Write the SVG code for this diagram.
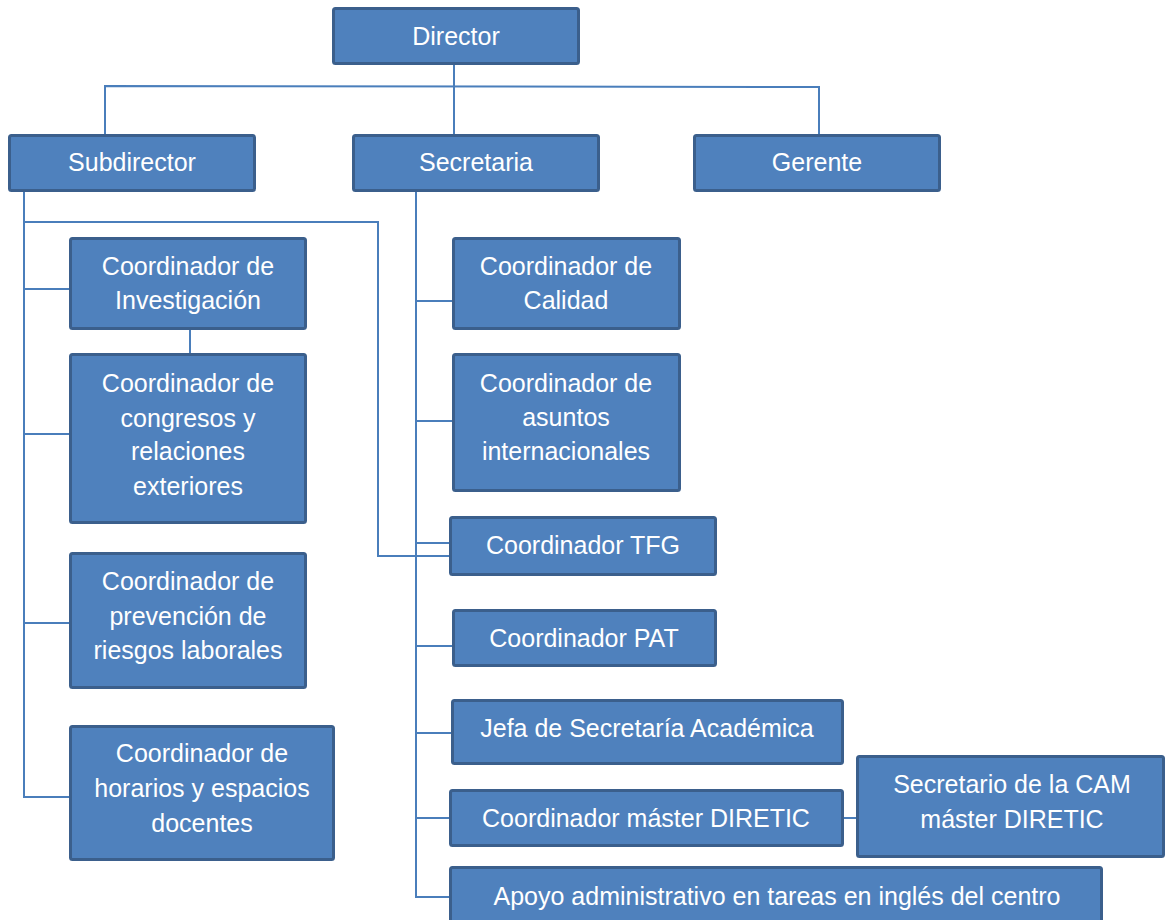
<svg xmlns="http://www.w3.org/2000/svg" width="1166" height="920" viewBox="0 0 1166 920">
<style>
.box{fill:#4f81bd;stroke:#3b5f8c;stroke-width:3}
.t{font-family:"Liberation Sans",Arial,sans-serif;font-size:25px;fill:#ffffff;text-anchor:middle}
.c{fill:none;stroke:#4a7ebb;stroke-width:2}
</style>
<rect width="1166" height="920" fill="#ffffff"/>
<g id="connectors">
<path class="c" d="M454 65 V140"/>
<path class="c" d="M105 136 V86 L819 87 V134"/>
<path class="c" d="M24 192 V798"/>
<path class="c" d="M24 222 H378 V556 H452"/>
<path class="c" d="M24 289 H70 M24 434 H93 M24 623 H70 M24 797 H70"/>
<path class="c" d="M190 328 V357"/>
<path class="c" d="M416 178 V898"/>
<path class="c" d="M416 301 H454 M416 421 H454 M416 543 H452 M416 646 H465 M416 733 H460 M416 818 H460 M416 897 H451"/>
<path class="c" d="M844 818 H872"/>
</g>
<g id="director"><rect class="box" x="333.5" y="8.5" width="245" height="55" rx="2"/><text class="t" x="456" y="45">Director</text></g>
<g id="subdirector"><rect class="box" x="9.5" y="135.5" width="245" height="55" rx="2"/><text class="t" x="132" y="171">Subdirector</text></g>
<g id="secretaria"><rect class="box" x="353.5" y="135.5" width="245" height="55" rx="2"/><text class="t" x="476" y="171">Secretaria</text></g>
<g id="gerente"><rect class="box" x="694.5" y="135.5" width="245" height="55" rx="2"/><text class="t" x="817" y="171">Gerente</text></g>
<g id="investigacion"><rect class="box" x="70.5" y="238.5" width="235" height="90" rx="2"/><text class="t" x="188" y="275">Coordinador de</text><text class="t" x="188" y="309">Investigación</text></g>
<g id="congresos"><rect class="box" x="70.5" y="354.5" width="235" height="168" rx="2"/><text class="t" x="188" y="392">Coordinador de</text><text class="t" x="188" y="427">congresos y</text><text class="t" x="188" y="460">relaciones</text><text class="t" x="188" y="495">exteriores</text></g>
<g id="prevencion"><rect class="box" x="70.5" y="553.5" width="235" height="134" rx="2"/><text class="t" x="188" y="590">Coordinador de</text><text class="t" x="188" y="625">prevención de</text><text class="t" x="188" y="659">riesgos laborales</text></g>
<g id="horarios"><rect class="box" x="70.5" y="726.5" width="263" height="133" rx="2"/><text class="t" x="202" y="762">Coordinador de</text><text class="t" x="202" y="797">horarios y espacios</text><text class="t" x="202" y="832">docentes</text></g>
<g id="calidad"><rect class="box" x="453.5" y="238.5" width="226" height="90" rx="2"/><text class="t" x="566" y="275">Coordinador de</text><text class="t" x="566" y="309">Calidad</text></g>
<g id="asuntos"><rect class="box" x="453.5" y="354.5" width="226" height="136" rx="2"/><text class="t" x="566" y="392">Coordinador de</text><text class="t" x="566" y="426">asuntos</text><text class="t" x="566" y="460">internacionales</text></g>
<g id="tfg"><rect class="box" x="450.5" y="517.5" width="265" height="57" rx="2"/><text class="t" x="583" y="554">Coordinador TFG</text></g>
<g id="pat"><rect class="box" x="453.5" y="610.5" width="262" height="55" rx="2"/><text class="t" x="584" y="647">Coordinador PAT</text></g>
<g id="jefa"><rect class="box" x="452.5" y="700.5" width="390" height="63" rx="2"/><text class="t" x="647" y="737">Jefa de Secretaría Académica</text></g>
<g id="master"><rect class="box" x="450.5" y="790.5" width="392" height="55" rx="2"/><text class="t" x="646" y="827">Coordinador máster DIRETIC</text></g>
<g id="cam"><rect class="box" x="857.5" y="756.5" width="306" height="100" rx="2"/><text class="t" x="1012" y="793">Secretario de la CAM</text><text class="t" x="1012" y="828">máster DIRETIC</text></g>
<g id="apoyo"><rect class="box" x="450.5" y="867.5" width="651" height="60" rx="2"/><text class="t" x="777" y="905">Apoyo administrativo en tareas en inglés del centro</text></g>
</svg>
